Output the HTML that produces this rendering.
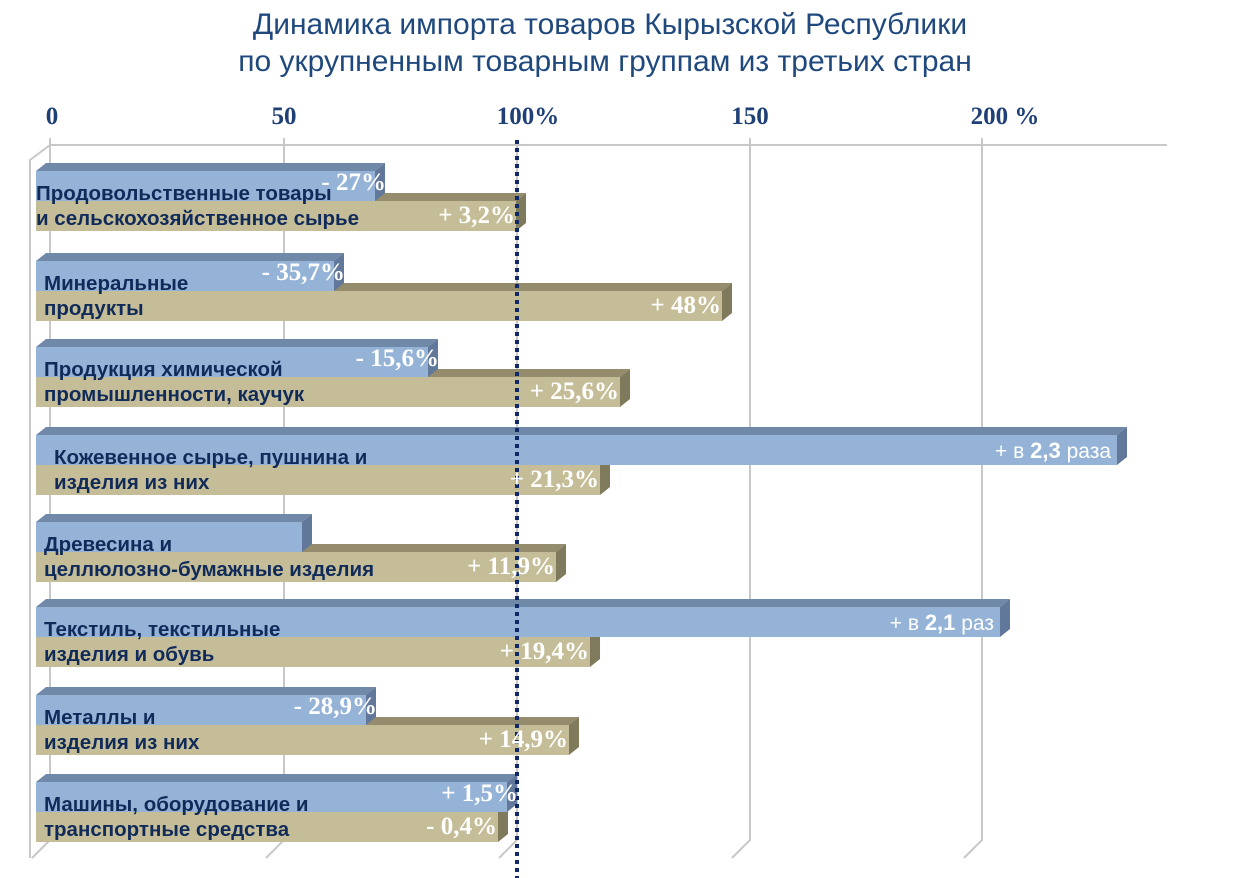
<!DOCTYPE html>
<html><head><meta charset="utf-8"><style>
body{margin:0;background:#fff;width:1252px;height:878px;overflow:hidden}
svg{display:block}
.t{font-family:"Liberation Sans",sans-serif;font-size:30px;fill:#1f497d}
.ax{font-family:"Liberation Serif",serif;font-weight:bold;font-size:25px;fill:#1f3f77}
.lb{font-family:"Liberation Sans",sans-serif;font-weight:bold;font-size:20.5px;fill:#102a5a}
.v{font-family:"Liberation Serif",serif;font-weight:bold;font-size:25px;fill:#fff}
.vs{font-family:"Liberation Sans",sans-serif;font-size:21px;fill:#fff}
</style></head><body>
<svg width="1252" height="878" xmlns="http://www.w3.org/2000/svg">
<text class="t" x="610" y="34" text-anchor="middle">Динамика импорта товаров Кырызской Республики</text>
<text class="t" x="605" y="71" text-anchor="middle">по укрупненным товарным группам из третьих стран</text>
<text class="ax" x="52" y="124" text-anchor="middle">0</text>
<text class="ax" x="284" y="124" text-anchor="middle">50</text>
<text class="ax" x="528" y="124" text-anchor="middle">100%</text>
<text class="ax" x="750" y="124" text-anchor="middle">150</text>
<text class="ax" x="1005" y="124" text-anchor="middle">200 %</text>
<g stroke="#c8c8c8" stroke-width="2" fill="none">
<line x1="50" y1="145" x2="1167" y2="145"/>
<polyline points="50,138 50,145 30,160 30,858"/>
<polyline points="284,138 284,840 266,858"/>
<polyline points="517,145 517,840 499,858"/>
<polyline points="750,138 750,840 732,858"/>
<polyline points="982,138 982,840 964,858"/>
<line x1="50" y1="145" x2="50" y2="840"/>
<line x1="50" y1="840" x2="32" y2="858"/>
</g>
<g id="bars"></g>
<line x1="517" y1="140" x2="517" y2="878" stroke="#0f2a66" stroke-width="4" stroke-dasharray="4,4"/>
<g id="labels"></g>
</svg>
<script>
var rows=[
[163,375,516,"Продовольственные товары","и сельскохозяйственное сырье","- 27%","+ 3,2%",0],
[253,334,722,"Минеральные","продукты","- 35,7%","+ 48%",8],
[339,428,620,"Продукция химической","промышленности, каучук","- 15,6%","+ 25,6%",8],
[427,1117,600,"Кожевенное сырье, пушнина и","изделия из них","+ в 2,3 раза","+ 21,3%",18],
[514,302,556,"Древесина и","целлюлозно-бумажные изделия","","+ 11,9%",8],
[599,1000,590,"Текстиль, текстильные","изделия и обувь","+ в 2,1 раз","+ 19,4%",8],
[687,366,569,"Металлы и","изделия из них","- 28,9%","+ 14,9%",8],
[774,507,498,"Машины, оборудование и","транспортные средства","+ 1,5%","- 0,4%",8]];
var b="",l="";
function bar(y,x2,fr,tp,sd){
 return '<polygon points="36,'+(y+8)+' 46,'+y+' '+(x2+10)+','+y+' '+x2+','+(y+8)+'" fill="'+tp+'"/>'+
 '<polygon points="'+x2+','+(y+8)+' '+(x2+10)+','+y+' '+(x2+10)+','+(y+30)+' '+x2+','+(y+38)+'" fill="'+sd+'"/>'+
 '<rect x="36" y="'+(y+8)+'" width="'+(x2-36)+'" height="30" fill="'+fr+'"/>';}
rows.forEach(function(r){
 var y=r[0];
 b+=bar(y+30,r[2],"#c4bd97","#948c6c","#807a5c");
 b+=bar(y,r[1],"#95b3d7","#7189a8","#62789a");
 var lx=36+r[7];
 l+='<text class="lb" x="'+lx+'" y="'+(y+37)+'">'+r[3]+'</text>';
 l+='<text class="lb" x="'+lx+'" y="'+(y+62)+'">'+r[4]+'</text>';
 if(r[5]){var big=r[5].indexOf("в")>0;
  if(big){var p=r[5].split(" ");l+='<text class="vs" x="'+(r[1]-6)+'" y="'+(y+31)+'" text-anchor="end">+ в <tspan font-weight="bold" font-size="22">'+p[2]+'</tspan> '+p[3]+'</text>';}
  else l+='<text class="v" x="'+(r[1]+11)+'" y="'+(y+27)+'" text-anchor="end">'+r[5]+'</text>';}
 l+='<text class="v" x="'+(r[2]-1)+'" y="'+(y+60)+'" text-anchor="end">'+r[6]+'</text>';
});
document.getElementById("bars").innerHTML=b;
document.getElementById("labels").innerHTML=l;
</script>
</body></html>
